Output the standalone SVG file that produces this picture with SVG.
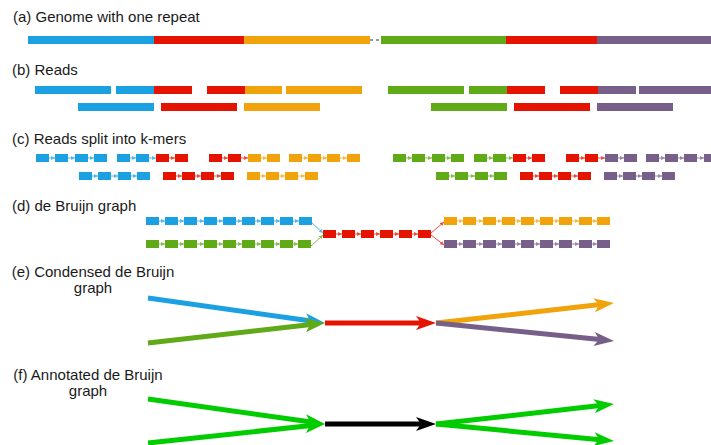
<svg xmlns="http://www.w3.org/2000/svg" width="711" height="445" viewBox="0 0 711 445">
<style>
text{font-family:"Liberation Sans",Arial,sans-serif;font-size:15px;fill:#1a1a1a}
.b{fill:#1ba1e2}.r{fill:#e51400}.o{fill:#f0a30a}.g{fill:#60a917}.p{fill:#76608a}
.ka{stroke-width:1;fill:none;opacity:.75}
.kb{stroke:#1ba1e2;marker-end:url(#mb)}.kr{stroke:#e51400;marker-end:url(#mr)}.ko{stroke:#f0a30a;marker-end:url(#mo)}.kg{stroke:#60a917;marker-end:url(#mg)}.kp{stroke:#76608a;marker-end:url(#mp)}
.big{stroke-width:5;fill:none}
</style>
<defs>
<marker id="mb" viewBox="0 0 4 4" refX="4" refY="2" markerWidth="4" markerHeight="4" markerUnits="userSpaceOnUse" orient="auto"><path d="M0,0L4,2L0,4Z" fill="#1ba1e2"/></marker>
<marker id="mr" viewBox="0 0 4 4" refX="4" refY="2" markerWidth="4" markerHeight="4" markerUnits="userSpaceOnUse" orient="auto"><path d="M0,0L4,2L0,4Z" fill="#e51400"/></marker>
<marker id="mo" viewBox="0 0 4 4" refX="4" refY="2" markerWidth="4" markerHeight="4" markerUnits="userSpaceOnUse" orient="auto"><path d="M0,0L4,2L0,4Z" fill="#f0a30a"/></marker>
<marker id="mg" viewBox="0 0 4 4" refX="4" refY="2" markerWidth="4" markerHeight="4" markerUnits="userSpaceOnUse" orient="auto"><path d="M0,0L4,2L0,4Z" fill="#60a917"/></marker>
<marker id="mp" viewBox="0 0 4 4" refX="4" refY="2" markerWidth="4" markerHeight="4" markerUnits="userSpaceOnUse" orient="auto"><path d="M0,0L4,2L0,4Z" fill="#76608a"/></marker>
<marker id="Ab" viewBox="0 -7 20 14" refX="6" refY="0" markerWidth="20" markerHeight="14" markerUnits="userSpaceOnUse" orient="auto"><path d="M0,-7L20,0L0,7L5,0Z" fill="#1ba1e2"/></marker>
<marker id="Ag" viewBox="0 -7 20 14" refX="6" refY="0" markerWidth="20" markerHeight="14" markerUnits="userSpaceOnUse" orient="auto"><path d="M0,-7L20,0L0,7L5,0Z" fill="#60a917"/></marker>
<marker id="Ar" viewBox="0 -7 20 14" refX="6" refY="0" markerWidth="20" markerHeight="14" markerUnits="userSpaceOnUse" orient="auto"><path d="M0,-7L20,0L0,7L5,0Z" fill="#e51400"/></marker>
<marker id="Ao" viewBox="0 -7 20 14" refX="6" refY="0" markerWidth="20" markerHeight="14" markerUnits="userSpaceOnUse" orient="auto"><path d="M0,-7L20,0L0,7L5,0Z" fill="#f0a30a"/></marker>
<marker id="Ap" viewBox="0 -7 20 14" refX="6" refY="0" markerWidth="20" markerHeight="14" markerUnits="userSpaceOnUse" orient="auto"><path d="M0,-7L20,0L0,7L5,0Z" fill="#76608a"/></marker>
<marker id="AG" viewBox="0 -7 20 14" refX="6" refY="0" markerWidth="20" markerHeight="14" markerUnits="userSpaceOnUse" orient="auto"><path d="M0,-7L20,0L0,7L5,0Z" fill="#00cc00"/></marker>
<marker id="AK" viewBox="0 -7 20 14" refX="6" refY="0" markerWidth="20" markerHeight="14" markerUnits="userSpaceOnUse" orient="auto"><path d="M0,-7L20,0L0,7L5,0Z" fill="#000"/></marker>
</defs>

<g id="labels">
<text x="13" y="22">(a) Genome with one repeat</text>
<text x="12" y="75">(b) Reads</text>
<text x="12" y="144">(c) Reads split into k-mers</text>
<text x="12" y="211">(d) de Bruijn graph</text>
<text x="93" y="277" text-anchor="middle">(e) Condensed de Bruijn</text>
<text x="93" y="293" text-anchor="middle">graph</text>
<text x="88" y="380" text-anchor="middle">(f) Annotated de Bruijn</text>
<text x="88" y="396" text-anchor="middle">graph</text>
</g>

<g id="genome">
<rect class="b" x="28" y="36" width="126" height="8"/>
<rect class="r" x="154" y="36" width="90" height="8"/>
<rect class="o" x="244" y="36" width="126" height="8"/>
<line x1="370" y1="40" x2="381" y2="40" stroke="#333" stroke-width="1" stroke-dasharray="3,3"/>
<rect class="g" x="381" y="36" width="125" height="8"/>
<rect class="r" x="506" y="36" width="91" height="8"/>
<rect class="p" x="597" y="36" width="114" height="8"/>
</g>

<g id="reads">
<rect class="b" x="35" y="86" width="76" height="8"/>
<rect class="b" x="116" y="86" width="38" height="8"/><rect class="r" x="154" y="86" width="38" height="8"/>
<rect class="r" x="207" y="86" width="38" height="8"/><rect class="o" x="245" y="86" width="37" height="8"/>
<rect class="o" x="286" y="86" width="76" height="8"/>
<rect class="g" x="388" y="86" width="76" height="8"/>
<rect class="g" x="469" y="86" width="38" height="8"/><rect class="r" x="507" y="86" width="38" height="8"/>
<rect class="r" x="560" y="86" width="38" height="8"/><rect class="p" x="598" y="86" width="38" height="8"/>
<rect class="p" x="639" y="86" width="72" height="8"/>
<rect class="b" x="78" y="103" width="76" height="8"/>
<rect class="r" x="161" y="103" width="76" height="8"/>
<rect class="o" x="244" y="103" width="76" height="8"/>
<rect class="g" x="431" y="103" width="76" height="8"/>
<rect class="r" x="514" y="103" width="76" height="8"/>
<rect class="p" x="597" y="103" width="76" height="8"/>
</g>

<g id="kmers">
<rect class="b" x="36" y="154" width="13" height="8"/><rect class="b" x="55" y="154" width="13" height="8"/><rect class="b" x="75" y="154" width="13" height="8"/><rect class="b" x="94" y="154" width="13" height="8"/>
<rect class="b" x="117" y="154" width="13" height="8"/><rect class="b" x="136" y="154" width="13" height="8"/><rect class="r" x="156" y="154" width="13" height="8"/><rect class="r" x="175" y="154" width="13" height="8"/>
<rect class="r" x="209" y="154" width="13" height="8"/><rect class="r" x="228" y="154" width="13" height="8"/><rect class="o" x="248" y="154" width="13" height="8"/><rect class="o" x="267" y="154" width="13" height="8"/>
<rect class="o" x="289" y="154" width="13" height="8"/><rect class="o" x="308" y="154" width="13" height="8"/><rect class="o" x="327" y="154" width="13" height="8"/><rect class="o" x="347" y="154" width="13" height="8"/>
<rect class="g" x="393" y="154" width="13" height="8"/><rect class="g" x="412" y="154" width="13" height="8"/><rect class="g" x="432" y="154" width="13" height="8"/><rect class="g" x="451" y="154" width="13" height="8"/>
<rect class="g" x="474" y="154" width="13" height="8"/><rect class="g" x="493" y="154" width="13" height="8"/><rect class="r" x="513" y="154" width="13" height="8"/><rect class="r" x="532" y="154" width="13" height="8"/>
<rect class="r" x="566" y="154" width="13" height="8"/><rect class="r" x="585" y="154" width="13" height="8"/><rect class="p" x="605" y="154" width="13" height="8"/><rect class="p" x="624" y="154" width="13" height="8"/>
<rect class="p" x="646" y="154" width="13" height="8"/><rect class="p" x="665" y="154" width="13" height="8"/><rect class="p" x="684" y="154" width="13" height="8"/><rect class="p" x="704" y="154" width="13" height="8"/>
<rect class="b" x="79" y="172" width="13" height="8"/><rect class="b" x="98" y="172" width="13" height="8"/><rect class="b" x="118" y="172" width="13" height="8"/><rect class="b" x="137" y="172" width="13" height="8"/>
<rect class="r" x="163" y="172" width="13" height="8"/><rect class="r" x="182" y="172" width="13" height="8"/><rect class="r" x="201" y="172" width="13" height="8"/><rect class="r" x="221" y="172" width="13" height="8"/>
<rect class="o" x="247" y="172" width="13" height="8"/><rect class="o" x="266" y="172" width="13" height="8"/><rect class="o" x="285" y="172" width="13" height="8"/><rect class="o" x="305" y="172" width="13" height="8"/>
<rect class="g" x="436" y="172" width="13" height="8"/><rect class="g" x="455" y="172" width="13" height="8"/><rect class="g" x="475" y="172" width="13" height="8"/><rect class="g" x="494" y="172" width="13" height="8"/>
<rect class="r" x="520" y="172" width="13" height="8"/><rect class="r" x="539" y="172" width="13" height="8"/><rect class="r" x="558" y="172" width="13" height="8"/><rect class="r" x="578" y="172" width="13" height="8"/>
<rect class="p" x="604" y="172" width="13" height="8"/><rect class="p" x="623" y="172" width="13" height="8"/><rect class="p" x="642" y="172" width="13" height="8"/><rect class="p" x="662" y="172" width="13" height="8"/>
</g>

<g id="kmer-links">
<path class="ka kb" d="M49,158H55"/><path class="ka kb" d="M68,158H75"/><path class="ka kb" d="M88,158H94"/>
<path class="ka kb" d="M130,158H136"/><path class="ka kb" d="M149,158H156"/><path class="ka kr" d="M169,158H175"/>
<path class="ka kr" d="M222,158H228"/><path class="ka kr" d="M241,158H248"/><path class="ka ko" d="M261,158H267"/>
<path class="ka ko" d="M302,158H308"/><path class="ka ko" d="M321,158H327"/><path class="ka ko" d="M340,158H347"/>
<path class="ka kg" d="M406,158H412"/><path class="ka kg" d="M425,158H432"/><path class="ka kg" d="M445,158H451"/>
<path class="ka kg" d="M487,158H493"/><path class="ka kg" d="M506,158H513"/><path class="ka kr" d="M526,158H532"/>
<path class="ka kr" d="M579,158H585"/><path class="ka kr" d="M598,158H605"/><path class="ka kp" d="M618,158H624"/>
<path class="ka kp" d="M659,158H665"/><path class="ka kp" d="M678,158H684"/><path class="ka kp" d="M697,158H704"/>
<path class="ka kb" d="M92,176H98"/><path class="ka kb" d="M111,176H118"/><path class="ka kb" d="M131,176H137"/>
<path class="ka kr" d="M176,176H182"/><path class="ka kr" d="M195,176H201"/><path class="ka kr" d="M214,176H221"/>
<path class="ka ko" d="M260,176H266"/><path class="ka ko" d="M279,176H285"/><path class="ka ko" d="M298,176H305"/>
<path class="ka kg" d="M449,176H455"/><path class="ka kg" d="M468,176H475"/><path class="ka kg" d="M488,176H494"/>
<path class="ka kr" d="M533,176H539"/><path class="ka kr" d="M552,176H558"/><path class="ka kr" d="M571,176H578"/>
<path class="ka kp" d="M617,176H623"/><path class="ka kp" d="M636,176H642"/><path class="ka kp" d="M655,176H662"/>
</g>

<g id="debruijn">
<g id="d-blue">
<rect class="b" x="146" y="217" width="13" height="8"/><rect class="b" x="165" y="217" width="13" height="8"/><rect class="b" x="184" y="217" width="13" height="8"/><rect class="b" x="204" y="217" width="13" height="8"/><rect class="b" x="223" y="217" width="13" height="8"/><rect class="b" x="242" y="217" width="13" height="8"/><rect class="b" x="261" y="217" width="13" height="8"/><rect class="b" x="280" y="217" width="13" height="8"/><rect class="b" x="299" y="217" width="13" height="8"/>
</g>
<g id="d-green">
<rect class="g" x="146" y="240" width="13" height="8"/><rect class="g" x="165" y="240" width="13" height="8"/><rect class="g" x="184" y="240" width="13" height="8"/><rect class="g" x="204" y="240" width="13" height="8"/><rect class="g" x="223" y="240" width="13" height="8"/><rect class="g" x="242" y="240" width="13" height="8"/><rect class="g" x="261" y="240" width="13" height="8"/><rect class="g" x="280" y="240" width="13" height="8"/><rect class="g" x="298" y="240" width="13" height="8"/>
</g>
<g id="d-red">
<rect class="r" x="323" y="230" width="13" height="8"/><rect class="r" x="342" y="230" width="13" height="8"/><rect class="r" x="361" y="230" width="13" height="8"/><rect class="r" x="380" y="230" width="13" height="8"/><rect class="r" x="399" y="230" width="13" height="8"/><rect class="r" x="418" y="230" width="13" height="8"/>
</g>
<g id="d-orange">
<rect class="o" x="444" y="217" width="13" height="8"/><rect class="o" x="463" y="217" width="13" height="8"/><rect class="o" x="483" y="217" width="13" height="8"/><rect class="o" x="502" y="217" width="13" height="8"/><rect class="o" x="521" y="217" width="13" height="8"/><rect class="o" x="540" y="217" width="13" height="8"/><rect class="o" x="559" y="217" width="13" height="8"/><rect class="o" x="579" y="217" width="13" height="8"/><rect class="o" x="597" y="217" width="13" height="8"/>
</g>
<g id="d-purple">
<rect class="p" x="444" y="240" width="13" height="8"/><rect class="p" x="463" y="240" width="13" height="8"/><rect class="p" x="483" y="240" width="13" height="8"/><rect class="p" x="502" y="240" width="13" height="8"/><rect class="p" x="521" y="240" width="13" height="8"/><rect class="p" x="540" y="240" width="13" height="8"/><rect class="p" x="559" y="240" width="13" height="8"/><rect class="p" x="579" y="240" width="13" height="8"/><rect class="p" x="597" y="240" width="13" height="8"/>
</g>
</g>

<g id="debruijn-links">
<path class="ka kb" d="M159,221H165"/><path class="ka kb" d="M178,221H184"/><path class="ka kb" d="M197,221H204"/><path class="ka kb" d="M217,221H223"/><path class="ka kb" d="M236,221H242"/><path class="ka kb" d="M255,221H261"/><path class="ka kb" d="M274,221H280"/><path class="ka kb" d="M293,221H299"/>
<path class="ka kg" d="M159,244H165"/><path class="ka kg" d="M178,244H184"/><path class="ka kg" d="M197,244H204"/><path class="ka kg" d="M217,244H223"/><path class="ka kg" d="M236,244H242"/><path class="ka kg" d="M255,244H261"/><path class="ka kg" d="M274,244H280"/><path class="ka kg" d="M293,244H298"/>
<path class="ka kr" d="M336,234H342"/><path class="ka kr" d="M355,234H361"/><path class="ka kr" d="M374,234H380"/><path class="ka kr" d="M393,234H399"/><path class="ka kr" d="M412,234H418"/>
<path class="ka ko" d="M457,221H463"/><path class="ka ko" d="M476,221H483"/><path class="ka ko" d="M496,221H502"/><path class="ka ko" d="M515,221H521"/><path class="ka ko" d="M534,221H540"/><path class="ka ko" d="M553,221H559"/><path class="ka ko" d="M572,221H579"/><path class="ka ko" d="M592,221H597"/>
<path class="ka kp" d="M457,244H463"/><path class="ka kp" d="M476,244H483"/><path class="ka kp" d="M496,244H502"/><path class="ka kp" d="M515,244H521"/><path class="ka kp" d="M534,244H540"/><path class="ka kp" d="M553,244H559"/><path class="ka kp" d="M572,244H579"/><path class="ka kp" d="M592,244H597"/>
<path class="ka kb" d="M312,223L323,233"/>
<path class="ka kg" d="M311,246L323,235"/>
<path class="ka kr" d="M431,233L444,222"/>
<path class="ka kr" d="M431,235L444,245"/>
</g>

<g id="condensed">
<line class="big" x1="148" y1="298" x2="311.1" y2="321" stroke="#1ba1e2" marker-end="url(#Ab)"/>
<line class="big" x1="148" y1="343" x2="311.1" y2="324.6" stroke="#60a917" marker-end="url(#Ag)"/>
<line class="big" x1="436" y1="323" x2="600.1" y2="304.6" stroke="#f0a30a" marker-end="url(#Ao)"/>
<line class="big" x1="436" y1="323" x2="600.1" y2="339.6" stroke="#76608a" marker-end="url(#Ap)"/>
<line class="big" x1="325" y1="323" x2="422" y2="323" stroke="#e51400" marker-end="url(#Ar)"/>
</g>

<g id="annotated">
<line class="big" x1="148" y1="399" x2="311.1" y2="422" stroke="#00cc00" marker-end="url(#AG)"/>
<line class="big" x1="148" y1="443" x2="311.1" y2="425.5" stroke="#00cc00" marker-end="url(#AG)"/>
<line class="big" x1="436" y1="424" x2="600.1" y2="405.6" stroke="#00cc00" marker-end="url(#AG)"/>
<line class="big" x1="436" y1="424" x2="600.1" y2="439.7" stroke="#00cc00" marker-end="url(#AG)"/>
<line class="big" x1="325" y1="424" x2="422" y2="424" stroke="#000" marker-end="url(#AK)"/>
</g>
</svg>
